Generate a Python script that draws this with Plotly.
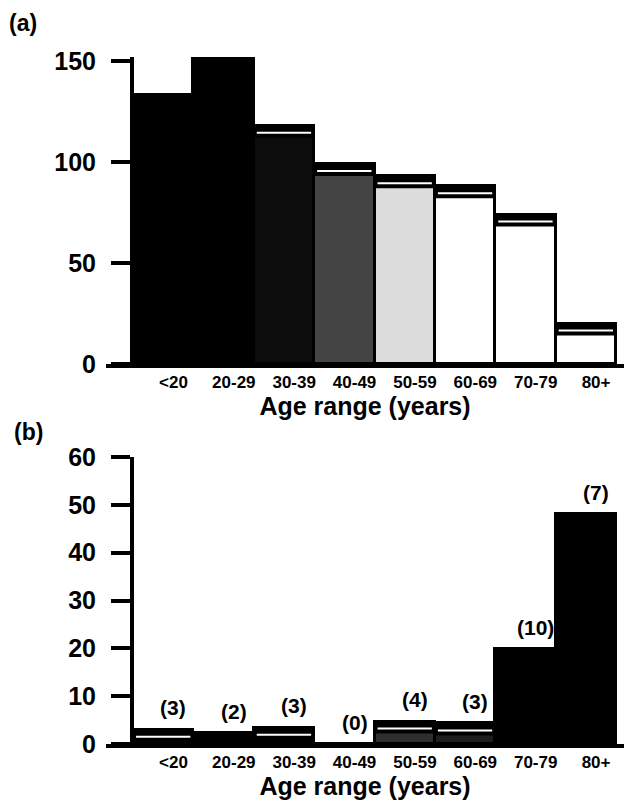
import plotly.graph_objects as go

# ---- data ----
categories = ["<20", "20-29", "30-39", "40-49", "50-59", "60-69", "70-79", "80+"]
values_a = [133, 151, 118, 99, 93, 88, 74, 20]
values_b = [3.0, 2.3, 3.4, 0, 4.7, 4.3, 19.8, 48]
counts_b = [3, 2, 3, 0, 4, 3, 10, 7]
yticks_a = [0, 50, 100, 150]
yticks_b = [0, 10, 20, 30, 40, 50, 60]
x_title = "Age range (years)"

# ---- style ----
fill_a = ["#000000", "#000000", "#0c0c0c", "#444444", "#dcdcdc", "#ffffff", "#ffffff", "#ffffff"]
fill_b = ["#000000", "#000000", "#000000", "#000000", "#2e2e2e", "#1e1e1e", "#000000", "#000000"]
stripe_a = [False, False, True, True, True, True, True, True]
stripe_b = [True, False, True, False, True, True, False, False]

W, H = 624, 800
FONT = "Liberation Sans, Arial, Helvetica, sans-serif"
idx = list(range(len(categories)))

# pixel geometry
px_unit_a = (364 - 61) / 150.0
top_a = 152
dom_a = [1 - 364 / H, 1 - (364 - top_a * px_unit_a) / H]
px_unit_b = (744 - 457) / 60.0
dom_b = [1 - 744 / H, 1 - 457 / H]
bar_px = 60.4
x_dom = [106 / W, 1.0]
x_range = [-0.5 - (133 - 106) / bar_px, len(categories) - 0.5 + (624 - 616) / bar_px]
label_shift = 0.17

fig = go.Figure()
fig.add_trace(go.Bar(x=idx, y=values_a, width=1, xaxis="x", yaxis="y",
                     marker=dict(color=fill_a, line=dict(color="black", width=3))))
fig.add_trace(go.Bar(x=idx, y=values_b, width=1, xaxis="x2", yaxis="y2",
                     marker=dict(color=fill_b, line=dict(color="black", width=3))))

shapes = []
def add_stripes(vals, flags, ppu, xref, yref):
    band = 12 / ppu
    off = 7 / ppu
    for i, (v, f) in enumerate(zip(vals, flags)):
        if not f or v <= 0:
            continue
        shapes.append(dict(type="rect", xref=xref, yref=yref, x0=i - 0.5, x1=i + 0.5,
                           y0=max(v - band, 0), y1=v, fillcolor="black", line=dict(width=0)))
        shapes.append(dict(type="line", xref=xref, yref=yref, x0=i - 0.45, x1=i + 0.45,
                           y0=max(v - off, 0.3 * v), y1=max(v - off, 0.3 * v),
                           line=dict(color="white", width=2)))

add_stripes(values_a, stripe_a, px_unit_a, "x", "y")
add_stripes(values_b, stripe_b, px_unit_b, "x2", "y2")

annotations = []
for i, c in enumerate(counts_b):
    annotations.append(dict(x=i + label_shift, y=values_b[i], xref="x2", yref="y2",
                            text=f"({c})", showarrow=False, yshift=22, yanchor="middle",
                            font=dict(family=FONT, size=21, color="black", weight="bold")))
annotations.append(dict(x=23 / W, y=1 - 23 / H, xref="paper", yref="paper", text="(a)",
                        showarrow=False, xanchor="center", yanchor="middle",
                        font=dict(family=FONT, size=23, color="black", weight="bold")))
annotations.append(dict(x=28 / W, y=1 - 432 / H, xref="paper", yref="paper", text="(b)",
                        showarrow=False, xanchor="center", yanchor="middle",
                        font=dict(family=FONT, size=23, color="black", weight="bold")))

def xaxis_cfg(anchor):
    return dict(domain=x_dom, range=x_range, anchor=anchor, showline=True, linewidth=4,
                linecolor="black", showgrid=False, zeroline=False, ticks="",
                tickvals=[i + label_shift for i in idx], ticktext=categories,
                tickfont=dict(family=FONT, size=17, color="black", weight="bold"),
                title=dict(text=x_title, standoff=6,
                           font=dict(family=FONT, size=25, color="black", weight="bold")),
                automargin=False, fixedrange=True)

def yaxis_cfg(dom, rng, tv, size):
    return dict(domain=dom, range=rng, anchor="free", position=132 / W, showline=True,
                linewidth=4, linecolor="black", showgrid=False, zeroline=False,
                ticks="outside", ticklen=19, tickwidth=4, tickcolor="black",
                tickvals=tv, ticklabelstandoff=10,
                tickfont=dict(family=FONT, size=size, color="black", weight="bold"),
                automargin=False, fixedrange=True)

fig.update_layout(
    width=W, height=H, margin=dict(l=0, r=0, t=0, b=0, autoexpand=False),
    paper_bgcolor="white", plot_bgcolor="white", showlegend=False, bargap=0,
    xaxis=xaxis_cfg("y"),
    yaxis=yaxis_cfg(dom_a, [0, top_a], yticks_a, 25),
    xaxis2=xaxis_cfg("y2"),
    yaxis2=yaxis_cfg(dom_b, [0, 60], yticks_b, 25),
    shapes=shapes, annotations=annotations,
)

fig.write_html("out.html", post_script="document.body.style.margin='0px';",
               config={"displayModeBar": False})
